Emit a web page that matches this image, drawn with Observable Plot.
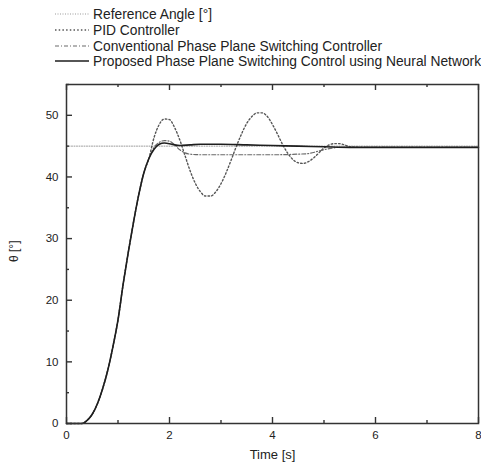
<!DOCTYPE html>
<html>
<head>
<meta charset="utf-8">
<script src="https://cdn.jsdelivr.net/npm/d3@7"></script>
<script src="https://cdn.jsdelivr.net/npm/@observablehq/plot@0.6"></script>
<style>
  html, body { margin: 0; padding: 0; background: #fff; }
  body { width: 481px; height: 470px; overflow: hidden; font-family: "Liberation Sans", Arial, sans-serif; color: #222; }
  #legend { position: relative; height: 72px; }
  .row { position: absolute; left: 55px; height: 16px; display: flex; align-items: center; font-size: 13.8px; white-space: nowrap; }
  .row svg { width: 34px; height: 10px; margin-right: 4px; }
</style>
</head>
<body>
<div id="legend"></div>
<div id="chart"></div>
<script>
// ---- data ----
const seriesNames = [
  "Reference Angle [°]",
  "PID Controller",
  "Conventional Phase Plane Switching Controller",
  "Proposed Phase Plane Switching Control using Neural Network"
];
const xTicks = [0, 2, 4, 6, 8];
const xMinorTicks = [1, 3, 5, 7];
const yTicks = [0, 10, 20, 30, 40, 50];
const yMinorTicks = [5, 15, 25, 35, 45, 55];

const refTime = [0, 8];
const refValues = [45, 45];

const riseTime = [0, 0.3, 0.4, 0.5, 0.6, 0.7, 0.8, 0.9, 1.0, 1.1, 1.2, 1.3, 1.4, 1.5, 1.6];
const riseValues = [0, 0, 0.5, 1.5, 3.2, 5.6, 8.6, 12.4, 16.8, 22.6, 27.8, 32.6, 37.0, 40.6, 43.0];

const pidTime = [1.7, 1.8, 1.9, 2.0, 2.1, 2.2, 2.3, 2.4, 2.5, 2.6, 2.7, 2.8, 2.9, 3.0, 3.1, 3.2, 3.3, 3.4, 3.5, 3.6, 3.7, 3.8, 3.9, 4.0, 4.1, 4.2, 4.3, 4.4, 4.5, 4.6, 4.7, 4.8, 4.9, 5.0, 5.1, 5.2, 5.3, 5.4, 5.5, 5.7, 6, 7, 8];
const pidValues = [46.4, 48.5, 49.4, 49.3, 48.0, 46.0, 43.5, 41.0, 39.0, 37.6, 36.9, 36.9, 37.6, 38.9, 40.7, 42.8, 45.0, 47.0, 48.7, 49.8, 50.4, 50.4, 49.8, 48.5, 46.9, 45.2, 43.8, 42.8, 42.3, 42.2, 42.5, 43.1, 43.9, 44.7, 45.2, 45.4, 45.4, 45.2, 44.9, 44.8, 44.8, 44.8, 44.8];

const convTime = [1.7, 1.8, 1.9, 2.0, 2.1, 2.2, 2.3, 2.4, 2.6, 3.0, 3.5, 4.0, 4.5, 4.7, 4.9, 5.1, 5.3, 5.6, 6, 7, 8];
const convValues = [44.8, 45.6, 45.9, 45.8, 45.2, 44.4, 43.9, 43.7, 43.6, 43.6, 43.6, 43.6, 43.7, 43.8, 44.2, 44.6, 44.8, 44.8, 44.8, 44.8, 44.8];

const propTime = [1.7, 1.8, 1.9, 2.0, 2.1, 2.2, 2.4, 2.6, 3.0, 3.5, 4.0, 4.5, 5.0, 5.5, 6, 7, 8];
const propValues = [44.5, 45.3, 45.5, 45.4, 45.2, 45.1, 45.2, 45.3, 45.3, 45.2, 45.1, 45.0, 44.9, 44.8, 44.8, 44.8, 44.8];

// ---- styles ----
const styles = [
  {stroke: "#9a9a9a", strokeWidth: 1, strokeDasharray: "1,1.5"},
  {stroke: "#555", strokeWidth: 1.4, strokeDasharray: "1.5,2.2"},
  {stroke: "#6a6a6a", strokeWidth: 1.2, strokeDasharray: "4,2,1,2"},
  {stroke: "#1e1e1e", strokeWidth: 1.6}
];

function build(t, v, name) { return t.map((x, i) => ({t: x, v: v[i], name})); }
const series = [
  build(refTime, refValues, seriesNames[0]),
  build(riseTime.concat(pidTime), riseValues.concat(pidValues), seriesNames[1]),
  build(riseTime.concat(convTime), riseValues.concat(convValues), seriesNames[2]),
  build(riseTime.concat(propTime), riseValues.concat(propValues), seriesNames[3])
];

// ---- legend ----
const legend = document.getElementById("legend");
const rowTops = [6, 22, 38, 53];
seriesNames.forEach((n, i) => {
  const row = document.createElement("div");
  row.className = "row";
  row.style.top = rowTops[i] + "px";
  const s = styles[i];
  row.innerHTML = `<svg viewBox="0 0 34 10"><line x1="0" x2="34" y1="5" y2="5" stroke="${s.stroke}" stroke-width="${s.strokeWidth}" ${s.strokeDasharray ? `stroke-dasharray="${s.strokeDasharray}"` : ""}/></svg><span>${n}</span>`;
  legend.appendChild(row);
});

// ---- chart ----
const W = 481, H = 398, mT = 12, mB = 47, mL = 66, mR = 3;
const innerH = H - mT - mB, innerW = W - mL - mR;
const tickStyle = {stroke: "#333", strokeWidth: 1.4};
const chart = Plot.plot({
  width: W,
  height: H,
  marginTop: mT,
  marginBottom: mB,
  marginLeft: mL,
  marginRight: mR,
  style: {fontFamily: "'Liberation Sans', Arial, sans-serif", fontSize: "11.5px", color: "#222", background: "#fff", overflow: "visible"},
  x: {domain: [0, 8]},
  y: {domain: [0, 55]},
  marks: [
    ...series.map((d, i) => Plot.line(d, {x: "t", y: "v", curve: "monotone-x", ...styles[i]})),
    Plot.frame({stroke: "#333", strokeWidth: 1.5}),
    // inward ticks (bottom, top, left)
    Plot.tickX(xTicks, {x: d => d, insetTop: innerH - 6, ...tickStyle}),
    Plot.tickX(xMinorTicks, {x: d => d, insetTop: innerH - 3, ...tickStyle}),
    Plot.tickX(xTicks, {x: d => d, insetBottom: innerH - 6, ...tickStyle}),
    Plot.tickX(xMinorTicks, {x: d => d, insetBottom: innerH - 3, ...tickStyle}),
    Plot.tickY(yTicks, {y: d => d, insetRight: innerW - 6, ...tickStyle}),
    Plot.tickY(yMinorTicks, {y: d => d, insetRight: innerW - 3, ...tickStyle}),
    // tick labels
    Plot.axisX({anchor: "bottom", ticks: xTicks, tickSize: 0, tickPadding: 7, label: null, tickFormat: d => String(d)}),
    Plot.axisY({anchor: "left", ticks: yTicks, tickSize: 0, tickPadding: 8, label: null, tickFormat: d => String(d)}),
    // axis titles
    Plot.text(["Time [s]"], {frameAnchor: "bottom", dy: 35, text: d => d, fontSize: 13, fill: "#222"}),
    Plot.text(["θ [°]"], {frameAnchor: "left", dx: -52, dy: 8, rotate: -90, text: d => d, fontSize: 12, fill: "#222"})
  ]
});
document.getElementById("chart").appendChild(chart);
</script>
</body>
</html>
